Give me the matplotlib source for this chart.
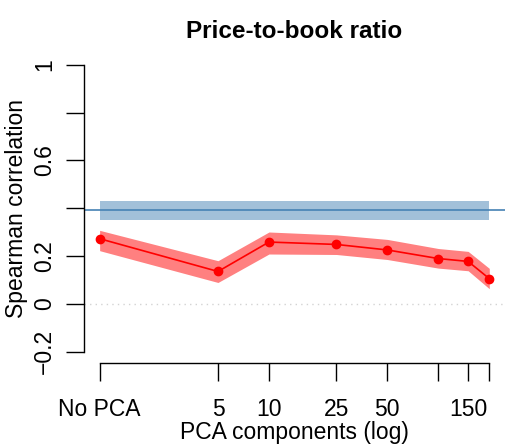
import numpy as np
import matplotlib.pyplot as plt

plt.rcParams['font.family'] = ['Liberation Sans', 'DejaVu Sans']

# data
components = [1, 5, 10, 25, 50, 100, 150, 200]   # 1 stands for "No PCA"
tick_labels = ['No PCA', '5', '10', '25', '50', '', '150', '']
rho = [0.273, 0.136, 0.259, 0.249, 0.226, 0.190, 0.178, 0.106]
rho_low = [0.223, 0.090, 0.209, 0.207, 0.186, 0.150, 0.139, 0.064]
rho_high = [0.308, 0.181, 0.301, 0.289, 0.270, 0.232, 0.220, 0.149]
baseline = 0.392
baseline_low = 0.350
baseline_high = 0.429
yticks = [-0.2, 0, 0.2, 0.4, 0.6, 0.8, 1]
ytick_labels = ['\u22120.2', '0', '0.2', '', '0.6', '', '1']

fig = plt.figure(figsize=(5.32, 4.48), dpi=100)
ax = fig.add_axes([0.158, 0.189, 0.791, 0.692])

# baseline band + line
ax.fill_between([components[0], components[-1]], baseline_low, baseline_high,
                color='steelblue', alpha=0.5, linewidth=0)
ax.axhline(baseline, color='steelblue', linewidth=1.2)
ax.axhline(0, color='lightgray', linestyle=(0, (1, 3)), linewidth=1)

# PCA results
ax.fill_between(components, rho_low, rho_high, color='#FF8080', linewidth=0)
ax.plot(components, rho, color='red', linewidth=1.2, marker='o', markersize=6)

ax.set_xscale('log')
ax.set_xlim(10 ** -0.092, 10 ** 2.393)
ax.set_ylim(-0.248, 1.048)

ax.set_xticks(components)
ax.set_xticklabels(tick_labels)
ax.minorticks_off()
ax.set_yticks(yticks)
ax.set_yticklabels(ytick_labels, rotation=90, va='center')

for s in ['top', 'right']:
    ax.spines[s].set_visible(False)
ax.spines['left'].set_bounds(-0.2, 1)
ax.spines['bottom'].set_bounds(1, 200)
ax.spines['left'].set_linewidth(1)
ax.spines['bottom'].set_linewidth(1)
ax.tick_params(axis='both', length=13, width=1, labelsize=16.5)
ax.tick_params(axis='x', pad=12)
ax.tick_params(axis='y', pad=7)

ax.set_xlabel('PCA components (log)', fontsize=16.5, labelpad=0)
ax.set_ylabel('Spearman correlation', fontsize=16.5, labelpad=4)
ax.set_title('Price-to-book ratio', fontsize=17.5, fontweight='bold', pad=11)

fig.savefig('out.png', dpi=100)
